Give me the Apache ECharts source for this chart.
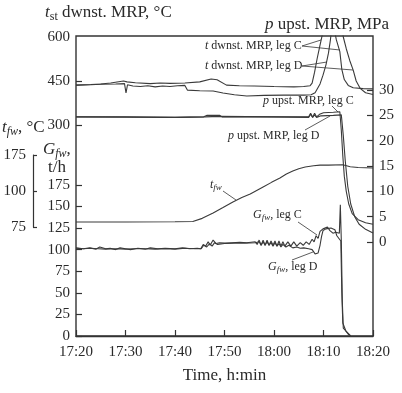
<!DOCTYPE html>
<html><head><meta charset="utf-8">
<script src="https://cdn.jsdelivr.net/npm/echarts@6/dist/echarts.min.js"></script>
<style>html,body{margin:0;padding:0;background:#fff}#c{width:402px;height:393px}</style>
</head><body><div id="c"></div>
<script>
// ---- axis ticks / labels ----
const timeTicks = [0, 10, 20, 30, 40, 50, 60];
const timeLabels = ['17:20', '17:30', '17:40', '17:50', '18:00', '18:10', '18:20'];
const gTicks = [0, 25, 50, 75, 100, 125, 150, 175];
const tstTicks = [300, 450, 600];
const pTicks = [0, 5, 10, 15, 20, 25, 30];
const tfwTicks = [75, 100, 125];
const tfwTickLabels = ['75', '100', '175'];

// ---- series data: [minutes after 17:20, value] ----
const tstLegC = [[0,436],[3,438],[5,440],[7,443],[9.6,450],[10.3,447],[12,444],[15,441],[17,443],[19,442],[22,443],[25,447],[27.3,457],[28.5,454],[30.4,436],[33,434],[36,433],[40,431],[44,430],[46,431],[47.3,434],[47.7,443],[48.2,480],[48.7,525],[49.2,565],[49.7,603],[50.2,640],[52,640],[52.6,590],[53.3,550],[53.7,490],[54.2,455],[55,435],[56,427],[58,424],[60,423]];
const tstLegD = [[0,436],[3,437],[5,439],[8,440],[9.8,441],[10.1,409],[10.4,437],[11.5,433],[13,431],[14.5,434],[16,430],[17.5,433],[19,431],[20.5,434],[22,435],[22.5,419],[25,417],[27.7,416],[29.7,409],[32,403],[34.5,399],[38,401],[42,402],[46,402],[47.5,403],[48.3,410],[49.3,440],[49.9,470],[50.5,505],[51,545],[51.4,590],[51.7,640],[53.6,640],[54,600],[54.6,560],[55.3,520],[56,487],[56.6,450],[57.4,425],[58.5,410],[60,404]];
const pLegC = [[0,24.7],[10,24.7],[20,24.6],[25.8,24.7],[26.5,25.0],[29,25.0],[29.5,24.7],[40,24.7],[47,24.7],[47.4,25.4],[47.8,24.6],[48.2,25.4],[48.6,24.7],[49.2,25.2],[50,25.5],[52,25.6],[53.3,25.7],[53.6,22],[53.9,17],[54.2,13],[54.6,10],[55.1,7.5],[55.8,5.6],[57,4.4],[58.5,3.8],[60,3.5]];
const pLegD = [[0,24.7],[20,24.6],[26,24.7],[29,24.8],[40,24.7],[47,24.6],[47.4,25.2],[47.8,24.6],[48.2,25.1],[48.6,24.6],[49.5,24.9],[52,25.0],[53.6,25.1],[54.0,21],[54.4,16],[54.9,11],[55.5,7.5],[56.3,5],[57.2,3.5],[58.5,2.5],[60,1.8]];
const tfwLine = [[0,78.5],[10,78.5],[20,78.6],[23.6,78.8],[25.5,81],[27.7,84.7],[29.7,88.5],[31.7,92.4],[33.5,95.5],[35.2,97.9],[37.8,102.8],[39.5,106],[41.2,109],[42.5,111.8],[43.8,113.9],[45,115.5],[46.3,116.7],[48,117.5],[49.3,118],[51,118],[53.9,118.2],[55.4,116.8],[57,116.3],[60,116]];
const gLegC = [[0,102],[1.5,101],[2.8,102],[4,100.5],[4.8,103],[6,101],[6.9,101.5],[8,100],[8.9,102],[10,101],[11,100],[12.5,101.5],[14,100.5],[15,102],[16.5,101],[18,101.5],[20,101],[21.5,102],[23,101],[24.5,101.5],[25.2,101],[25.7,106],[26.2,104],[26.7,109],[27.1,105],[27.7,111],[28.3,107],[29,108],[30.1,107.5],[31.5,108],[33.1,108.5],[34.5,108],[36.2,109],[36.6,106],[37,111],[37.4,105],[37.8,111],[38.2,105],[38.6,111],[39,105],[39.4,110],[39.8,105],[40.2,110],[40.6,104],[41,110],[41.4,104],[41.8,109],[42.2,104],[42.8,109],[43.4,104],[44,109],[44.6,104],[45.3,108],[45.9,105],[46.5,109],[47.1,106],[47.7,112],[48.1,109],[48.5,116],[48.9,113],[49.3,121],[49.9,124],[50.8,126],[51.3,122],[51.9,119],[52.5,120],[52.9,118],[53.2,119],[53.4,152],[53.6,110],[53.8,40],[54,9],[54.5,6],[55,3],[55.5,0]];
const gLegD = [[0,101.5],[1.5,101],[3,101.5],[4.5,101],[6,100.5],[8,101],[10,100.5],[12,101],[14,101],[16,100.5],[18,101],[20,100.5],[22,101.5],[24,101],[25.3,101],[25.8,105],[26.4,103],[27,107],[27.5,104],[28,108],[28.6,106],[30,107],[32,107.5],[34,107.5],[36.2,108],[36.6,106],[37,109],[37.4,105],[37.8,109],[38.2,105],[38.6,109],[39,105],[39.4,108],[39.8,104],[40.2,108],[40.6,104],[41,107],[41.4,103],[41.8,106],[42.4,103],[43,105],[43.8,102],[44.6,103],[45.3,101.5],[46,102],[47,101],[47.7,100],[48.3,95],[48.9,96],[49.3,105],[49.6,115],[49.9,122],[50.5,124],[51.5,125],[52.3,123],[52.7,116],[53.1,117],[53.5,110],[53.7,50],[53.9,15],[54.5,6],[55,2],[55.5,0]];

const F = '"Liberation Serif", "Times New Roman", serif';
const INK = '#2a2a2a';
const LINE = '#3a3a3a';

// --- text helper (for italic / subscript pieces) ---
const ctx = document.createElement('canvas').getContext('2d');
function fontStr(p) { return (p.italic ? 'italic ' : '') + p.size + 'px "Liberation Serif"'; }
function run(x, cy, parts, anchor) {
  let w = 0;
  parts.forEach(p => { ctx.font = fontStr(p); p.w = ctx.measureText(p.text).width; w += p.w; });
  let cx = anchor === 'end' ? x - w : anchor === 'middle' ? x - w / 2 : x;
  return parts.map(p => {
    const el = { type: 'text', silent: true, x: cx, y: cy + (p.dy || 0),
      style: { text: p.text, font: fontStr(p), fill: INK, textAlign: 'left', textVerticalAlign: 'middle', verticalAlign: 'middle' } };
    cx += p.w; return el;
  });
}
function seg(x1, y1, x2, y2) {
  return { type: 'line', silent: true, shape: { x1, y1, x2, y2 }, style: { stroke: '#333', lineWidth: 0.8 } };
}
const S = 12, s = 9;
const graphics = [].concat(
  run(45, 13, [{text:'t',size:17,italic:true},{text:'st',size:12,dy:4},{text:' dwnst. MRP, °C',size:17}]),
  run(327, 25, [{text:'p',size:17,italic:true},{text:' upst. MRP, MPa',size:17}], 'middle'),
  run(2, 128, [{text:'t',size:17,italic:true},{text:'fw',size:12,italic:true,dy:4},{text:', °C',size:17}]),
  run(43, 150, [{text:'G',size:17,italic:true},{text:'fw',size:12,italic:true,dy:4},{text:',',size:17}]),
  run(57, 168, [{text:'t/h',size:17}], 'middle'),
  run(224.5, 376, [{text:'Time, h:min',size:17}], 'middle'),
  run(205, 46, [{text:'t',size:S,italic:true},{text:' dwnst. MRP, leg C',size:S}]),
  run(205, 66, [{text:'t',size:S,italic:true},{text:' dwnst. MRP, leg D',size:S}]),
  run(263, 101, [{text:'p',size:S,italic:true},{text:' upst. MRP, leg C',size:S}]),
  run(228, 136, [{text:'p',size:S,italic:true},{text:' upst. MRP, leg D',size:S}]),
  run(210, 185, [{text:'t',size:S,italic:true},{text:'fw',size:s,italic:true,dy:3}]),
  run(253, 215, [{text:'G',size:S,italic:true},{text:'fw',size:s,italic:true,dy:3},{text:', leg C',size:S}]),
  run(268, 267, [{text:'G',size:S,italic:true},{text:'fw',size:s,italic:true,dy:3},{text:', leg D',size:S}]),
  [seg(302,46,321,40), seg(302,46,340,50), seg(302,66,327,62), seg(302,66,353,70),
   seg(332,106,338,112), seg(305,130,330,116), seg(223,191,236,200),
   seg(298,222,317,235), seg(292,260,313,252)]
);

const tick = { inside: true, length: 6, lineStyle: { color: '#333', width: 1.2 } };
const lbl = { color: INK, fontFamily: F, fontSize: 15 };
function line(data, xi, yi) {
  return { type: 'line', data, xAxisIndex: xi, yAxisIndex: yi, showSymbol: false, symbol: 'none',
    lineStyle: { color: LINE, width: 1.1 }, silent: true, animation: false };
}

const chart = echarts.init(document.getElementById('c'), null, { renderer: 'canvas' });
chart.setOption({
  animation: false,
  grid: [
    { left: 76, right: 29, top: 36, bottom: 57, show: true, borderColor: '#333', borderWidth: 1.4, backgroundColor: 'transparent' },
    { left: 76, right: 29, top: 155, bottom: 166, show: false }
  ],
  xAxis: [
    { type: 'value', gridIndex: 0, min: 0, max: 60, interval: 10, splitLine: { show: false },
      axisLine: { show: true, lineStyle: { color: '#333', width: 1.4 } }, axisTick: tick,
      axisLabel: Object.assign({ margin: 9, formatter: v => timeLabels[timeTicks.indexOf(v)] }, lbl) },
    { type: 'value', gridIndex: 1, min: 0, max: 60, show: false }
  ],
  yAxis: [
    { type: 'value', gridIndex: 0, position: 'left', min: 0, max: 300 / 0.864, splitLine: { show: false },
      axisLine: { show: false }, axisTick: Object.assign({ customValues: gTicks }, tick),
      axisLabel: Object.assign({ margin: 6, customValues: gTicks }, lbl) },
    { type: 'value', gridIndex: 0, position: 'left', min: 300 - 211 / (88 / 300), max: 600 + 1 / (88 / 300), splitLine: { show: false },
      axisLine: { show: false }, axisTick: Object.assign({ customValues: [300, 450] }, tick),
      axisLabel: Object.assign({ margin: 6, customValues: tstTicks }, lbl) },
    { type: 'value', gridIndex: 0, position: 'right', min: -94 / (152 / 30), max: 206 / (152 / 30), splitLine: { show: false },
      axisLine: { show: false }, axisTick: Object.assign({ customValues: pTicks }, tick),
      axisLabel: Object.assign({ margin: 6, customValues: pTicks }, lbl) },
    { type: 'value', gridIndex: 1, position: 'left', offset: 43, min: 75, max: 125, splitLine: { show: false },
      axisLine: { show: true, onZero: false, lineStyle: { color: '#333', width: 1.2 } },
      axisTick: { show: true, inside: true, length: 4, customValues: tfwTicks, lineStyle: { color: '#333', width: 1.2 } },
      axisLabel: Object.assign({ margin: 7, customValues: tfwTicks, formatter: v => tfwTickLabels[tfwTicks.indexOf(v)] }, lbl) }
  ],
  series: [
    line(tstLegC, 0, 1), line(tstLegD, 0, 1),
    line(pLegC, 0, 2), line(pLegD, 0, 2),
    line(gLegC, 0, 0), line(gLegD, 0, 0),
    line(tfwLine, 1, 3)
  ],
  graphic: graphics
});
</script></body></html>
